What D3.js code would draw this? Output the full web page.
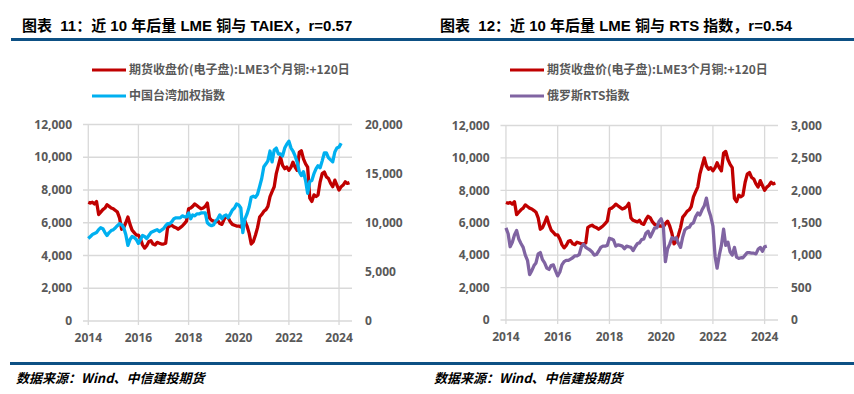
<!DOCTYPE html>
<html>
<head>
<meta charset="utf-8">
<script src="https://cdn.jsdelivr.net/npm/d3@7"></script>
<style>
  body { margin: 0; background: #fff; }
  svg { display: block; }
  text { font-family: "Open Sans", "Noto Sans CJK SC", sans-serif; }
</style>
</head>
<body>
<div id="chart"></div>
<script>
// monthly series, first value = Jan 2014
const startMonth = new Date(2014, 0, 1);

// LME 3M copper, shifted +120 days (same in both panels)
const copperValues = [
  7250, 7200, 7250, 7150, 7300, 6500, 6650, 6800, 6900, 7100, 7000, 6900,
  6850, 6750, 6650, 6300, 5600, 5700, 6000, 6350, 5900, 5550, 5400, 5250,
  5250, 5000, 4650, 4450, 4600, 4850, 4900, 4700, 4650, 4800, 4750, 4700,
  4700, 4750, 5700, 5800, 5850, 5750, 5700, 5600, 5700, 5800, 5950, 6100,
  6850, 6900, 7000, 7150, 7050, 6950, 6850, 6900, 7000, 7200, 6300, 6150,
  6100, 6050, 6150, 5950, 5900, 6200, 6400, 6300, 6050, 5900, 5850, 5800,
  5800, 5750, 5950, 6100, 5800, 5350, 4700, 4850, 5250, 5700, 6350, 6500,
  6700, 6800, 7000, 7600, 7900, 8200, 9000, 9500, 10000, 9500, 9300, 9400,
  9200, 9400, 9700, 9400, 9200, 10300, 10400, 9900, 9600, 9400, 7500, 7300,
  7700, 7600, 7700, 8500, 9000, 9100, 8800, 8700, 8400, 8200, 8600, 8300,
  8000, 8200, 8300, 8500, 8400, 8450
];

// Taiwan weighted index (TAIEX)
const taiexValues = [
  8400, 8600, 8800, 8900, 9000, 9300, 9500, 9400, 9000, 8700, 9000, 9200,
  9300, 9500, 9700, 9900, 9800, 9500, 8800, 7700, 8300, 8600, 8500, 8300,
  7900, 8300, 8700, 8600, 8400, 8700, 9000, 9100, 9200, 9300, 9100, 9250,
  9400, 9700, 9900, 9900, 10100, 10400, 10500, 10500, 10500, 10700, 10600, 10600,
  11000, 10400, 10800, 10700, 10900, 10900, 11000, 11000, 11000, 10000, 9800, 9700,
  9800, 10200, 10400, 10800, 10400, 10700, 10800, 10500, 10900, 11300, 11500, 11900,
  11800, 11500, 9000, 10400, 10900, 11600, 12600, 12700, 12600, 12900, 13700, 14500,
  15700, 16000, 16300, 17300, 16200, 17400, 17600, 17000, 17000, 16800, 17600, 18000,
  18300, 17600, 17300, 16800, 16200, 15200, 14800, 15200, 14300, 13000, 14200, 14300,
  15000, 15500, 15800, 15600, 16300, 17100, 17100, 16600, 16400, 16200, 17200, 17600,
  17700, 18100
];

// Russia RTS index
const rtsValues = [
  1420, 1330, 1130, 1200, 1310, 1380, 1250, 1180, 1120, 1000, 920, 700,
  760, 840, 880, 1020, 1040, 930, 880, 800, 780, 840, 850, 760,
  680, 740, 850, 900, 920, 920, 940, 960, 990, 990, 1010, 1130,
  1170, 1120, 1100, 1080, 1050, 1000, 1010, 1060, 1120, 1140, 1140, 1150,
  1260, 1250, 1230, 1140, 1160, 1150, 1140, 1100, 1140, 1130, 1120, 1070,
  1130, 1180, 1190, 1240, 1250, 1340, 1370, 1280, 1350, 1420, 1420, 1520,
  1560, 1450, 900, 1100, 1170, 1270, 1250, 1270, 1180, 1120, 1280, 1390,
  1420, 1430, 1480, 1500, 1590, 1650, 1620, 1700, 1760, 1880, 1700, 1600,
  1450, 980, 800, 1000, 1150, 1400, 1150, 1200, 1050, 1000, 1120, 970,
  950, 960, 960, 1000, 1040, 1040, 1030, 1030, 1020, 1090, 1120, 1060,
  1130, 1140
];

const xTickYears = [2014, 2016, 2018, 2020, 2022, 2024];
const leftTicks = [0, 2000, 4000, 6000, 8000, 10000, 12000];
const taiexTicks = [0, 5000, 10000, 15000, 20000];
const rtsTicks = [0, 500, 1000, 1500, 2000, 2500, 3000];

const copperName = "期货收盘价(电子盘):LME3个月铜:+120日";

const W = 854, H = 394;
const svg = d3.select("#chart").append("svg")
  .attr("width", W).attr("height", H);

const toSeries = vals => vals.map((v, i) => ({date: d3.timeMonth.offset(startMonth, i), value: v}));

// header and footer rules
const ruleColor = "#0d5084";
svg.append("rect").attr("x", 11).attr("y", 38).attr("width", W - 11).attr("height", 3).attr("fill", ruleColor);
svg.append("rect").attr("x", 10).attr("y", 362).attr("width", W - 10).attr("height", 3).attr("fill", ruleColor);

function drawPanel(o) {
  const g = svg.append("g");

  g.append("text")
    .attr("x", o.titleX).attr("y", 31)
    .attr("font-size", 15).attr("font-weight", "bold").attr("fill", "#000")
    .style("font-family", "'Liberation Sans', 'Noto Sans CJK SC', sans-serif")
    .style("white-space", "pre")
    .text(o.title);

  g.append("text")
    .attr("x", o.titleX - 6).attr("y", 383)
    .attr("font-size", 13).attr("font-weight", "bold").attr("font-style", "italic")
    .attr("fill", "#000")
    .style("font-family", "'Noto Sans CJK SC', sans-serif")
    .text("数据来源：Wind、中信建投期货");

  const x = d3.scaleTime().domain([new Date(2013, 9, 16), new Date(2024, 6, 8)]).range([o.left, o.right]);
  const y = d3.scaleLinear().domain([0, 12000]).range([o.bottom, o.top]);
  const y2 = d3.scaleLinear().domain(o.rightDomain).range([o.bottom, o.top]);

  // horizontal grid
  g.append("g").selectAll("line").data(leftTicks).join("line")
    .attr("x1", o.left).attr("x2", o.right)
    .attr("y1", d => y(d)).attr("y2", d => y(d))
    .attr("stroke", "#d9d9d9").attr("stroke-width", 1.3);

  // vertical grid
  g.append("g").selectAll("line").data(xTickYears).join("line")
    .attr("x1", d => x(new Date(d, 0, 1))).attr("x2", d => x(new Date(d, 0, 1)))
    .attr("y1", o.top).attr("y2", o.bottom + 4)
    .attr("stroke", "#d9d9d9").attr("stroke-width", 1.3);

  const labelStyle = sel => sel.attr("font-size", 12).attr("font-weight", "bold").attr("fill", "#595959");

  g.append("g").selectAll("text").data(leftTicks).join("text")
    .attr("x", o.left - 11).attr("y", d => y(d)).attr("dy", "0.35em")
    .attr("text-anchor", "end").text(d3.format(",")).call(labelStyle);

  g.append("g").selectAll("text").data(o.rightTicks).join("text")
    .attr("x", o.right + 13).attr("y", d => y2(d)).attr("dy", "0.35em")
    .attr("text-anchor", "start").text(d3.format(",")).call(labelStyle);

  g.append("g").selectAll("text").data(xTickYears).join("text")
    .attr("x", d => x(new Date(d, 0, 1))).attr("y", o.bottom + 17).attr("dy", "0.35em")
    .attr("text-anchor", "middle").text(d => d).call(labelStyle);

  const line = sc => d3.line().x(d => x(d.date)).y(d => sc(d.value));

  g.append("path").datum(toSeries(copperValues))
    .attr("fill", "none").attr("stroke", "#c00000").attr("stroke-width", 3.3)
    .attr("stroke-linejoin", "round").attr("d", line(y));

  g.append("path").datum(toSeries(o.values))
    .attr("fill", "none").attr("stroke", o.color).attr("stroke-width", 3.3)
    .attr("stroke-linejoin", "round").attr("d", line(y2));

  // legend
  const legend = g.append("g").selectAll("g")
    .data([{name: copperName, color: "#c00000"}, {name: o.name, color: o.color}])
    .join("g")
    .attr("transform", (d, i) => `translate(${o.legendX},${70 + i * 26})`);
  legend.append("line").attr("x1", 0).attr("x2", 34).attr("stroke", d => d.color).attr("stroke-width", 3);
  legend.append("text").attr("x", 37).attr("dy", "0.35em")
    .attr("font-size", 12).attr("font-weight", "bold").attr("fill", "#595959")
    .style("font-family", "'Noto Sans CJK SC', sans-serif")
    .text(d => d.name);
}

drawPanel({
  title: "图表  11：近 10 年后量 LME 铜与 TAIEX，r=0.57",
  titleX: 22, left: 83, right: 352, top: 124.5, bottom: 321,
  rightDomain: [0, 20000], rightTicks: taiexTicks,
  values: taiexValues, color: "#00b0f0", name: "中国台湾加权指数", legendX: 92
});

drawPanel({
  title: "图表  12：近 10 年后量 LME 铜与 RTS 指数，r=0.54",
  titleX: 440, left: 500.5, right: 778, top: 125.5, bottom: 320,
  rightDomain: [0, 3000], rightTicks: rtsTicks,
  values: rtsValues, color: "#8064a2", name: "俄罗斯RTS指数", legendX: 510
});
</script>
</body>
</html>
